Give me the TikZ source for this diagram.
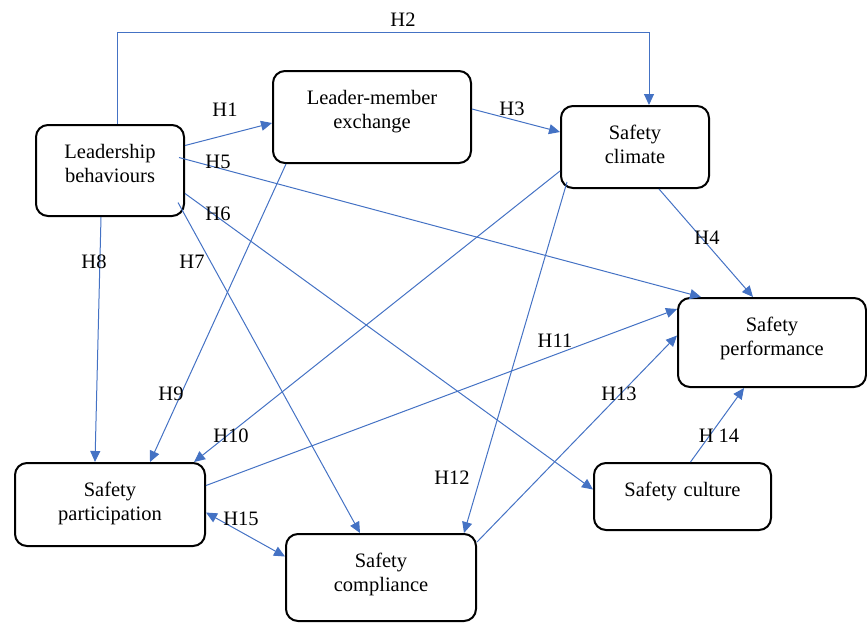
\documentclass[tikz,border=0pt]{standalone}
\usepackage{fontspec}
\setmainfont{Liberation Serif}
\usetikzlibrary{arrows.meta,calc,positioning}
\definecolor{hblue}{HTML}{4472C4}

\begin{document}
\begin{tikzpicture}[x=1pt,y=-1pt,>={Triangle[length=11pt,width=10pt]},
	var/.style={draw,line width=2pt,rounded corners=12pt,anchor=north west,align=center,inner sep=0pt,text height=33pt,font=\fontsize{20.5}{24.5}\selectfont},
	hyp/.style={->,hblue,line width=1pt},
	hlab/.style={inner sep=0pt,font=\fontsize{20.5}{24.5}\selectfont}]
	\useasboundingbox (0,0) rectangle (867,622);

	\node[var,text width=148pt,text depth=58pt] (lb) at (35,124) {Leadership\\behaviours};
	\node[var,text width=198pt,text depth=59pt] (lmx) at (272,70) {Leader-member\\exchange};
	\node[var,text width=148pt,text depth=49pt] (sc) at (560,105) {Safety\\climate};
	\node[var,text width=188pt,text depth=56pt] (sp) at (677,297) {Safety\\performance};
	\node[var,text width=177pt,text depth=34pt] (scu) at (593,462) {Safety culture};
	\node[var,text width=190pt,text depth=50pt] (spa) at (14,462) {Safety\\participation};
	\node[var,text width=190pt,text depth=54pt] (sco) at (285,533) {Safety\\compliance};

	\draw[hyp] ([yshift=25pt]lb.east) -- ([yshift=-6pt]lmx.west);
	\draw[hyp] ([xshift=7pt]lb.north) -- ++(0,-92) -| ([xshift=14pt]sc.north);
	\draw[hyp] ([yshift=8pt]lmx.east) -- ([yshift=15pt]sc.west);
	\draw[hyp] ([xshift=24pt]sc.south) -- ([xshift=-19pt]sp.north);
	\draw[hyp] ([xshift=-6pt,yshift=13pt]lb.east) -- ([xshift=-71pt]sp.north);
	\draw[hyp] ([yshift=-23pt]lb.east) -- ([yshift=7pt]scu.west);
	\draw[hyp] ([xshift=-7pt,yshift=-32pt]lb.east) -- ([xshift=-21pt]sco.north);
	\draw[hyp] ([xshift=-9pt]lb.south) -- ([xshift=-15pt]spa.north);
	\draw[hyp] ([xshift=-86pt]lmx.south) -- ([xshift=40pt]spa.north);
	\draw[hyp] ([yshift=-24pt]sc.west) -- ([xshift=-12pt]spa.north east);
	\draw[hyp] ([yshift=19pt]spa.east) -- ([yshift=-12pt]sp.north west);
	\draw[hyp] ([xshift=7pt,yshift=7pt]sc.south west) -- ([xshift=-13pt]sco.north east);
	\draw[hyp] ([yshift=-9pt]sco.north east) -- ([yshift=7pt]sp.west);
	\draw[hyp] ([xshift=8pt]scu.north) -- ([xshift=-28pt]sp.south);
	\draw[hyp,<->] ([yshift=-8pt]spa.east) -- ([yshift=21pt]sco.west);

	\node[hlab] (h1) at (225,110) {H1};
	\node[hlab] (h2) at (403,20) {H2};
	\node[hlab] (h3) at (512,109) {H3};
	\node[hlab] (h4) at (707,238) {H4};
	\node[hlab] (h5) at (218,162) {H5};
	\node[hlab] (h6) at (218,214) {H6};
	\node[hlab] (h7) at (192,262) {H7};
	\node[hlab] (h8) at (94,262) {H8};
	\node[hlab] (h9) at (171,394) {H9};
	\node[hlab] (h10) at (231,436) {H10};
	\node[hlab] (h11) at (555,341) {H11};
	\node[hlab] (h12) at (452,478) {H12};
	\node[hlab] (h13) at (619,394) {H13};
	\node[hlab] (h14) at (719,436) {H 14};
	\node[hlab] (h15) at (241,519) {H15};
\end{tikzpicture}
\end{document}
